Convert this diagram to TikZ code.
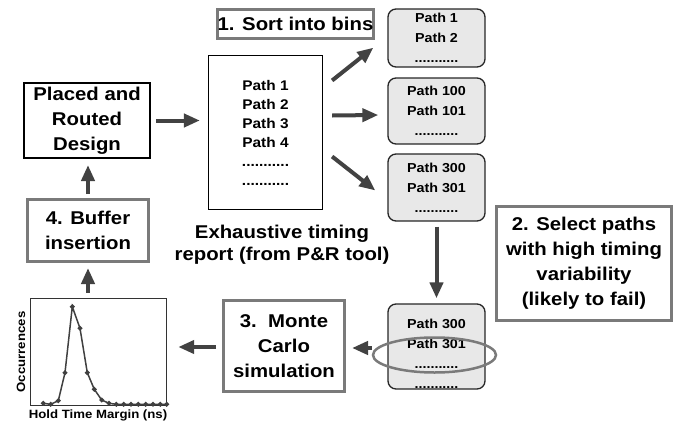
\documentclass[tikz,border=0pt]{standalone}
\usepackage{fontspec}
\setmainfont[FakeStretch=1.1]{Liberation Sans}
\usetikzlibrary{arrows.meta,shapes.geometric}
\definecolor{boxgray}{RGB}{122,122,122}
\definecolor{arrgray}{RGB}{66,66,66}
\definecolor{binfill}{RGB}{232,232,232}

\begin{document}
\begin{tikzpicture}[x=1pt,y=-1pt,
	stepbox/.style={draw=boxgray,line width=3pt,inner sep=0pt,align=center,font=\bfseries\fontsize{18.5}{25}\selectfont},
	blackbox/.style={draw=black,line width=2pt,inner sep=0pt,align=center,font=\bfseries\fontsize{18.5}{25}\selectfont},
	binbox/.style={draw=black!85,fill=binfill,line width=1.3pt,rounded corners=8pt,inner sep=0pt,align=center,font=\bfseries\fontsize{13}{20}\selectfont},
	arr/.style={draw=arrgray,line width=4pt,-{Triangle[length=16pt,width=13pt]}}]
		\useasboundingbox (0,0) rectangle (681,426);
		% steps of the flow
		\node[stepbox,minimum width=116,minimum height=29] (sort) at (295.5,24) {1. Sort into bins};
		\node[blackbox,minimum width=126,minimum height=75] (placed) at (87,120.5) {Placed and\\Routed\\Design};
		\node[stepbox,minimum width=121,minimum height=62] (buffer) at (88,230.5) {4. Buffer\\insertion};
		\node[stepbox,minimum width=121,minimum height=91] (mc) at (284,346) {3.\ \ Monte\\Carlo\\simulation};
		\node[stepbox,minimum width=175,minimum height=114] (select) at (584,263.5) {2. Select paths\\with high timing\\variability\\(likely to fail)};
		% timing report
		\node[draw=black,line width=1.2pt,minimum width=114,minimum height=154,inner sep=0pt,align=center,font=\bfseries\fontsize{14}{19}\selectfont] (report) at (265.5,132.5) {Path 1\\Path 2\\Path 3\\Path 4\\...........\\...........};
		\node[align=center,font=\bfseries\fontsize{18.5}{22}\selectfont] (caption) at (282,245) {Exhaustive timing\\report (from P\&R tool)};
		% bins
		\node[binbox,minimum width=97,minimum height=58] (bin1) at (436.5,38) {Path 1\\Path 2\\...........};
		\node[binbox,minimum width=97,minimum height=66] (bin2) at (436.5,111) {Path 100\\Path 101\\...........};
		\node[binbox,minimum width=97,minimum height=67] (bin3) at (436.5,187.5) {Path 300\\Path 301\\...........};
		\node[binbox,minimum width=97,minimum height=85] (bin4) at (436.5,346.5) {\rule{0pt}{23pt}Path 300\\Path 301\\...........\\...........};
		\node[draw=boxgray,line width=2.5pt,ellipse,minimum width=123,minimum height=35,inner sep=0pt] (pick) at (434.5,355) {};
		% histogram
		\node[draw=black!80,line width=1.4pt,minimum width=136,minimum height=107,inner sep=0pt] (plot) at (98.5,352) {};
		\node[rotate=90,font=\bfseries\fontsize{12}{14}\selectfont] (ylab) at (21,352) {Occurrences};
		\node[font=\bfseries\fontsize{12}{14}\selectfont] (xlab) at (98,415) {Hold Time Margin (ns)};
		\draw[black!75,line width=1.5pt,mark=*,mark size=1.6pt] plot coordinates {(43.3,403.3) (50.7,404.3) (58.3,400.7) (65,372.7) (72.3,306.7) (80,328.3) (87.3,372.7) (94.3,389.3) (101.7,400) (109,403.3) (116.3,404.3) (123.7,404.3) (131,404.3) (138.3,404.3) (145.7,404.3) (153,404.3) (160.3,404.3) (166.7,404.3)};
		% arrows
		\draw[arr] ([shift={(5,0)}]placed.east) -- ([shift={(-8,0)}]placed.east -| report.west);
		\draw[arr] ([shift={(9,-52)}]report.east) -- ([shift={(-14,-20)}]bin1.south west);
		\draw[arr] ([shift={(9,-17)}]report.east) -- ([shift={(-9,4)}]bin2.west);
		\draw[arr] ([shift={(9,24)}]report.east) -- ([shift={(-12,3)}]bin3.west);
		\draw[arr,shorten <=5pt,shorten >=5pt] (bin3) -- (bin4);
		\draw[arr] ([shift={(0,-7)}]pick.west) -- ([shift={(6,2)}]mc.east);
		\draw[arr] ([shift={(-6,1)}]mc.west) -- ([shift={(11,-5)}]plot.east);
		\draw[arr] ([shift={(-10.5,-5)}]plot.north) -- ([shift={(0,5)}]buffer.south);
		\draw[arr] ([shift={(0,-4)}]buffer.north) -- ([shift={(1,6)}]placed.south);
		\end{tikzpicture}
\end{document}
